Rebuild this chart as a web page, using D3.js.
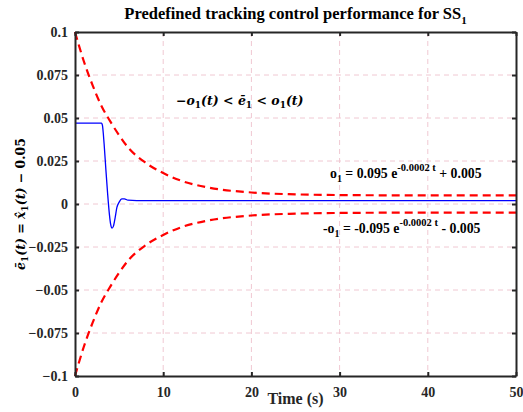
<!DOCTYPE html>
<html>
<head>
<meta charset="utf-8">
<script src="https://cdn.jsdelivr.net/npm/d3@7"></script>
<style>
  body { margin: 0; background: #fff; }
  svg { display: block; }
  .tick text { font-family: "Liberation Serif", serif; font-weight: bold; font-size: 14px; fill: #262626; }
</style>
</head>
<body>
<svg id="chart" width="523" height="412"></svg>
<script>
// data
var boundTime = [0, 1, 2, 3, 4, 5, 6, 8, 10, 12, 15, 20, 25, 30, 40, 50];
var upperBound = [0.100, 0.083, 0.069, 0.057, 0.048, 0.040, 0.033, 0.024, 0.018, 0.0136, 0.0097, 0.0067, 0.0056, 0.0052, 0.0050, 0.0050];
var lowerBound = [-0.100, -0.083, -0.069, -0.057, -0.048, -0.040, -0.033, -0.024, -0.018, -0.0136, -0.0097, -0.0067, -0.0056, -0.0052, -0.0050, -0.0050];

var errTime = [0, 3.0, 3.1, 3.3, 3.5, 3.7, 3.9, 4.05, 4.2, 4.35, 4.55, 4.75, 5.0, 5.3, 5.6, 6.0, 7, 50];
var errValue = [0.047, 0.047, 0.046, 0.035, 0.020, 0.006, -0.006, -0.012, -0.014, -0.013, -0.008, -0.002, 0.001, 0.003, 0.003, 0.0022, 0.002, 0.002];

var xTicks = [0, 10, 20, 30, 40, 50];
var yTicks = [-0.1, -0.075, -0.05, -0.025, 0, 0.025, 0.05, 0.075, 0.1];

var svg = d3.select("#chart");
var margin = { left: 75, right: 7, top: 32, bottom: 36 };
var width = 523 - margin.left - margin.right;
var height = 412 - margin.top - margin.bottom;

var axisColor = "#262626";
var gridColor = "#f0c8d2";
var red = "#ff0000";
var blue = "#0000ff";

var x = d3.scaleLinear().domain([0, 50]).range([0, width]);
var y = d3.scaleLinear().domain([-0.1, 0.1]).range([height, 0]);

var g = svg.append("g").attr("transform", "translate(" + margin.left + "," + margin.top + ")");

// grid
g.selectAll(".vgrid").data(xTicks.slice(1, -1)).enter().append("line")
  .attr("x1", function(d) { return x(d); }).attr("x2", function(d) { return x(d); })
  .attr("y1", 0).attr("y2", height)
  .style("stroke", gridColor).style("stroke-width", 1).style("stroke-dasharray", "5,4");
g.selectAll(".hgrid").data(yTicks.slice(1, -1)).enter().append("line")
  .attr("y1", function(d) { return y(d); }).attr("y2", function(d) { return y(d); })
  .attr("x1", 0).attr("x2", width)
  .style("stroke", gridColor).style("stroke-width", 1).style("stroke-dasharray", "5,4");

// lines
var boundUp = boundTime.map(function(t, i) { return [t, upperBound[i]]; });
var boundLo = boundTime.map(function(t, i) { return [t, lowerBound[i]]; });
var errLine = errTime.map(function(t, i) { return [t, errValue[i]]; });

var line = d3.line()
  .x(function(d) { return x(d[0]); })
  .y(function(d) { return y(d[1]); })
  .curve(d3.curveMonotoneX);

g.append("path").datum(boundUp).attr("d", line)
  .style("fill", "none").style("stroke", red).style("stroke-width", 2.2).style("stroke-dasharray", "8,5");
g.append("path").datum(boundLo).attr("d", line)
  .style("fill", "none").style("stroke", red).style("stroke-width", 2.2).style("stroke-dasharray", "8,5");
g.append("path").datum(errLine).attr("d", line)
  .style("fill", "none").style("stroke", blue).style("stroke-width", 1.3);

// axes with inward ticks
var xAxis = g.append("g").attr("transform", "translate(0," + height + ")")
  .call(d3.axisBottom(x).tickValues(xTicks).tickSizeInner(-4).tickSizeOuter(0).tickPadding(11).tickFormat(d3.format("d")));
var yAxis = g.append("g")
  .call(d3.axisLeft(y).tickValues(yTicks).tickSizeInner(-4).tickSizeOuter(0).tickPadding(7).tickFormat(function(d) { return d3.format("")(+d.toFixed(3)); }));
var xTop = g.append("g")
  .call(d3.axisTop(x).tickValues(xTicks).tickSizeInner(-4).tickSizeOuter(0).tickFormat(""));
var yRight = g.append("g").attr("transform", "translate(" + width + ",0)")
  .call(d3.axisRight(y).tickValues(yTicks).tickSizeInner(-4).tickSizeOuter(0).tickFormat(""));
[xAxis, yAxis, xTop, yRight].forEach(function(a) {
  a.select(".domain").style("stroke", axisColor).style("stroke-width", 2);
  a.selectAll(".tick line").style("stroke", axisColor).style("stroke-width", 2);
});
yAxis.selectAll(".tick text").attr("text-anchor", "end");

// title
var title = svg.append("text")
  .attr("x", margin.left + width / 2).attr("y", 19)
  .attr("text-anchor", "middle")
  .style("font-family", "Liberation Serif, serif").style("font-weight", "bold").style("font-size", "16.5px")
  .style("fill", "#000");
title.append("tspan").text("Predefined tracking control performance for SS");
title.append("tspan").attr("dy", 5).style("font-size", "11px").text("1");

// x label
svg.append("text")
  .attr("x", margin.left + width / 2).attr("y", 404)
  .attr("text-anchor", "middle")
  .style("font-family", "Liberation Serif, serif").style("font-weight", "bold").style("font-size", "16px")
  .style("fill", axisColor)
  .text("Time (s)");

// y label (math)
var mathFont = "DejaVu Serif, serif";
var ylab = svg.append("text")
  .attr("transform", "translate(25," + (margin.top + height / 2) + ") rotate(-90)")
  .attr("text-anchor", "middle")
  .style("font-family", mathFont).style("font-weight", "bold").style("font-style", "italic").style("font-size", "12.5px")
  .style("fill", "#000");
ylab.append("tspan").text("e\u0304");
ylab.append("tspan").attr("dy", 3).style("font-size", "9px").style("font-style", "normal").text("1");
ylab.append("tspan").attr("dy", -3).text("(t)");
ylab.append("tspan").style("font-style", "normal").text(" = ");
ylab.append("tspan").text("x\u0302");
ylab.append("tspan").attr("dy", 3).style("font-size", "9px").style("font-style", "normal").text("1");
ylab.append("tspan").attr("dy", -3).text("(t)");
ylab.append("tspan").style("font-style", "normal").text(" \u2212 0.05");

// inequality annotation
var ineq = svg.append("text")
  .attr("x", 176).attr("y", 105)
  .style("font-family", mathFont).style("font-weight", "bold").style("font-style", "italic").style("font-size", "12.5px")
  .style("fill", "#000");
ineq.append("tspan").style("font-style", "normal").text("\u2212");
ineq.append("tspan").text("o");
ineq.append("tspan").attr("dy", 3).style("font-size", "9px").style("font-style", "normal").text("1");
ineq.append("tspan").attr("dy", -3).text("(t)");
ineq.append("tspan").style("font-style", "normal").text(" < ");
ineq.append("tspan").text("e\u0304");
ineq.append("tspan").attr("dy", 3).style("font-size", "9px").style("font-style", "normal").text("1");
ineq.append("tspan").attr("dy", -3).style("font-style", "normal").text(" < ");
ineq.append("tspan").text("o");
ineq.append("tspan").attr("dy", 3).style("font-size", "9px").style("font-style", "normal").text("1");
ineq.append("tspan").attr("dy", -3).text("(t)");

// formula labels
function formula(xp, yp, lhs, rhs1, rhs2) {
  var t = svg.append("text").attr("x", xp).attr("y", yp)
    .style("font-family", "Liberation Serif, serif").style("font-weight", "bold").style("font-size", "13.8px")
    .style("fill", "#000");
  t.append("tspan").text(lhs);
  t.append("tspan").attr("dy", 4).style("font-size", "10px").text("1");
  t.append("tspan").attr("dy", -4).text(rhs1);
  t.append("tspan").attr("dy", -7).style("font-size", "10.5px").text("-0.0002 t");
  t.append("tspan").attr("dy", 7).text(rhs2);
}
formula(330, 178, "o", " = 0.095 e", " + 0.005");
formula(323, 233, "-o", " = -0.095 e", " - 0.005");
</script>
</body>
</html>
